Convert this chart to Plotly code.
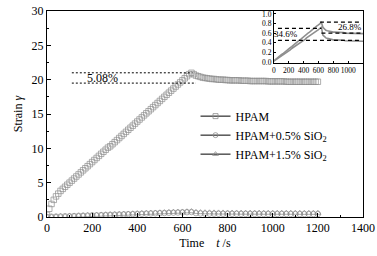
import numpy as np
import plotly.graph_objects as go

# time axes (s)
t_hpam = list(range(0, 1201, 10))
t_sio2 = list(range(0, 1201, 20))

hpam = [0.3, 1.2, 1.9, 2.5, 3.0, 3.4, 3.8, 4.1, 4.4, 4.7, 5.0,
        5.3, 5.6, 5.9, 6.2, 6.5, 6.8, 7.1, 7.4, 7.7, 8.0,
        8.3, 8.6, 8.9, 9.2, 9.5, 9.8, 10.1, 10.3, 10.6, 10.9,
        11.2, 11.5, 11.8, 12.1, 12.4, 12.7, 13.0, 13.3, 13.6, 13.9,
        14.2, 14.5, 14.8, 15.1, 15.4, 15.7, 16.0, 16.3, 16.6, 16.9,
        17.2, 17.5, 17.8, 18.1, 18.4, 18.7, 19.0, 19.3, 19.6, 19.9,
        20.2, 20.5, 20.8, 21.0,
        20.8, 20.6, 20.5, 20.4, 20.3, 20.25, 20.2, 20.15, 20.1, 20.1,
        20.05, 20.0, 20.0, 20.0, 19.95, 19.95, 19.9, 19.9, 19.9, 19.9,
        19.9, 19.85, 19.85, 19.85, 19.85, 19.8, 19.8, 19.8, 19.8, 19.8,
        19.8, 19.8, 19.8, 19.75, 19.75, 19.75, 19.75, 19.75, 19.75, 19.75,
        19.75, 19.7, 19.7, 19.7, 19.7, 19.7, 19.7, 19.7, 19.7, 19.7,
        19.7, 19.7, 19.7, 19.7, 19.7, 19.7]

sio2_05 = [0.02, 0.04, 0.06, 0.08, 0.10, 0.12, 0.14, 0.17, 0.19, 0.21, 0.23,
           0.25, 0.28, 0.30, 0.32, 0.34, 0.36, 0.39, 0.41, 0.43, 0.45,
           0.47, 0.50, 0.52, 0.54, 0.56, 0.58, 0.61, 0.63, 0.65, 0.67,
           0.70, 0.72,
           0.56, 0.52, 0.50, 0.49, 0.48, 0.47, 0.47, 0.46, 0.46, 0.46,
           0.45, 0.45, 0.45, 0.45, 0.45, 0.44, 0.44, 0.44, 0.44, 0.44,
           0.44, 0.44, 0.43, 0.43, 0.43, 0.43, 0.43, 0.43]

sio2_15 = [0.02, 0.05, 0.07, 0.10, 0.12, 0.15, 0.17, 0.20, 0.22, 0.25, 0.27,
           0.30, 0.32, 0.35, 0.37, 0.40, 0.42, 0.45, 0.47, 0.50, 0.52,
           0.55, 0.57, 0.60, 0.62, 0.65, 0.67, 0.70, 0.72, 0.75, 0.77,
           0.80, 0.82,
           0.72, 0.68, 0.66, 0.65, 0.64, 0.63, 0.63, 0.62, 0.62, 0.62,
           0.61, 0.61, 0.61, 0.61, 0.61, 0.60, 0.60, 0.60, 0.60, 0.60,
           0.60, 0.60, 0.60, 0.59, 0.59, 0.59, 0.59, 0.59]

names = ["HPAM", "HPAM+0.5% SiO<sub>2</sub>", "HPAM+1.5% SiO<sub>2</sub>"]
symbols = ["square-open", "circle-open", "triangle-up-open"]

# reference levels
main_levels = [21.0, 19.5]
main_level_span = [[110, 645], [110, 660]]
main_label = "5.08%"
inset_levels = [0.70, 0.45, 0.83, 0.60]
inset_level_span = [[55, 640], [55, 1170], [620, 1170], [640, 1170]]
inset_labels = ["34.6%", "26.8%"]

FONT = "Liberation Serif"
GRAY = "#8c8c8c"

fig = go.Figure()

series = [(t_hpam, hpam), (t_sio2, sio2_05), (t_sio2, sio2_15)]
for (tx, ys), sym in zip(series, symbols):
    fig.add_trace(go.Scatter(x=tx, y=ys, mode="markers", showlegend=False,
                             marker=dict(symbol=sym, size=5.5, color=GRAY, line=dict(width=0.7))))
# legend entries
for nm, sym in zip(names, symbols):
    fig.add_trace(go.Scatter(x=[None], y=[None], name=nm, mode="lines+markers",
                             line=dict(color="black", width=1),
                             marker=dict(symbol=sym, size=5, color=GRAY, line=dict(width=0.8))))

# main dashed guide lines
for lv, sp in zip(main_levels, main_level_span):
    fig.add_trace(go.Scatter(x=sp, y=[lv, lv], mode="lines", showlegend=False,
                             line=dict(color="black", width=1, dash="2px,2px")))

# inset traces
for ys in (sio2_05, sio2_15):
    fig.add_trace(go.Scatter(x=t_sio2, y=ys, mode="lines", showlegend=False,
                             xaxis="x2", yaxis="y2",
                             line=dict(color="#8f8f8f", width=1.6)))
for lv, sp in zip(inset_levels, inset_level_span):
    fig.add_trace(go.Scatter(x=sp, y=[lv, lv], mode="lines", showlegend=False,
                             xaxis="x2", yaxis="y2",
                             line=dict(color="black", width=1.2, dash="4px,3px")))

fig.add_annotation(x=244, y=20.2, xref="x", yref="y", text=main_label, showarrow=False,
                   font=dict(family=FONT, size=12, color="black"))
fig.add_annotation(x=165, y=0.58, xref="x2", yref="y2", text=inset_labels[0], showarrow=False,
                   font=dict(family=FONT, size=9, color="black"))
fig.add_annotation(x=1030, y=0.73, xref="x2", yref="y2", text=inset_labels[1], showarrow=False,
                   font=dict(family=FONT, size=9, color="black"))

axis_common = dict(showline=True, linecolor="black", linewidth=1, mirror=True, automargin=False,
                   ticks="inside", tickcolor="black", showgrid=False, zeroline=False)

fig.update_layout(
    width=377, height=256,
    margin=dict(l=47, r=14, t=11, b=39),
    paper_bgcolor="white", plot_bgcolor="white",
    font=dict(family=FONT, size=12, color="black"),
    xaxis=dict(range=[0, 1400], dtick=200, ticklen=4, tickwidth=1,
               minor=dict(dtick=100, ticklen=2, ticks="inside", tickcolor="black"),
               title=dict(text="Time&nbsp;&nbsp;&nbsp;&nbsp;<i>t</i> /s", standoff=4,
                          font=dict(size=12)),
               tickfont=dict(size=12), **axis_common),
    yaxis=dict(range=[0, 30], dtick=5, ticklen=4, tickwidth=1,
               minor=dict(dtick=2.5, ticklen=2, ticks="inside", tickcolor="black"),
               title=dict(text="Strain <i>γ</i>", standoff=6, font=dict(size=12)),
               tickfont=dict(size=12), **axis_common),
    xaxis2=dict(domain=[0.718, 1.0], anchor="y2", range=[0, 1200], tickvals=[0, 200, 400, 600, 800, 1000],
                tickangle=0, ticklen=2, tickfont=dict(size=7.5), **axis_common),
    yaxis2=dict(domain=[0.748, 1.0], anchor="x2", range=[-0.02, 1.06], dtick=0.2, tickformat=".1f",
                ticklen=2, tickfont=dict(size=7.5), **axis_common),
    legend=dict(x=0.47, y=0.56, xanchor="left", yanchor="top", bgcolor="rgba(0,0,0,0)",
                font=dict(size=12), tracegroupgap=0, itemwidth=30),
    showlegend=True,
)

fig.write_html("out.html", config={"displayModeBar": False},
               post_script="document.body.style.margin='0';document.body.style.overflow='hidden';")
